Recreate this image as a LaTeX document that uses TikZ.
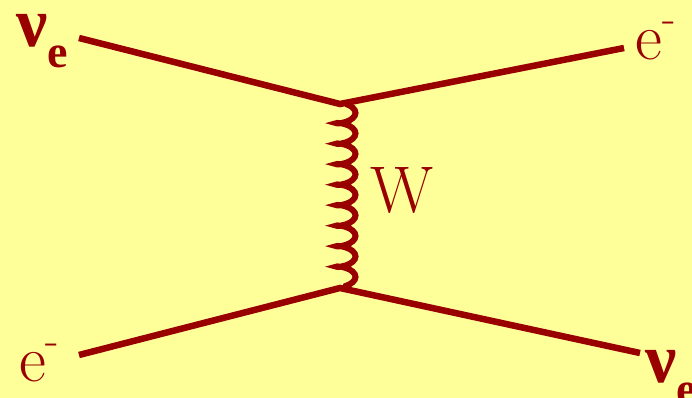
\documentclass[tikz,border=0pt]{standalone}
\usepackage{fontspec}
\newfontfamily\nufont{Liberation Serif}
\usetikzlibrary{decorations.pathmorphing}
\definecolor{bgyellow}{HTML}{FFFF99}
\definecolor{darkred}{HTML}{990000}
\tikzset{
  fermion/.style={draw=darkred, line width=6.5pt},
  boson/.style={draw=darkred, line width=6pt, decorate,
    decoration={coil, amplitude=9.5pt, segment length=20.5pt, aspect=0.4}},
  lbl/.style={text=darkred, inner sep=0pt, font=\rmfamily\fontsize{66}{66}\selectfont},
  nulbl/.style={text=darkred, inner sep=0pt, font=\nufont\bfseries\fontsize{70}{70}\selectfont}
}
\newcommand{\nusub}{\raisebox{-0.3em}{\fontsize{46}{46}\selectfont e}}
\newcommand{\eminus}{e\raisebox{0.42em}{\fontsize{44}{44}\selectfont -}}
\begin{document}
\begin{tikzpicture}[x=1pt,y=1pt]
  \fill[bgyellow] (0,0) rectangle (692,398);
  \useasboundingbox (0,0) rectangle (692,398);
  \coordinate (tl) at (79,360);
  \coordinate (tr) at (624,350);
  \coordinate (bl) at (79,43);
  \coordinate (br) at (640,45);
  \coordinate (vt) at (340,294);
  \coordinate (vb) at (340,110);
  \draw[fermion] (tl) -- (vt) -- (tr);
  \draw[fermion] (bl) -- (vb) -- (br);
  \draw[boson] ([xshift=6pt]vt) -- ([xshift=6pt]vb);
  \node[nulbl, anchor=base west] (nutl) at (16,351) {ν\nusub};
  \node[lbl, anchor=base west] (etr) at (635,338) {\eminus};
  \node[lbl, anchor=base west] (ebl) at (19,16) {\eminus};
  \node[nulbl, anchor=base west] (nubr) at (645,15) {ν\nusub};
  \node[lbl, anchor=base west] (wlbl) at (370,185) {W};
\end{tikzpicture}
\end{document}
